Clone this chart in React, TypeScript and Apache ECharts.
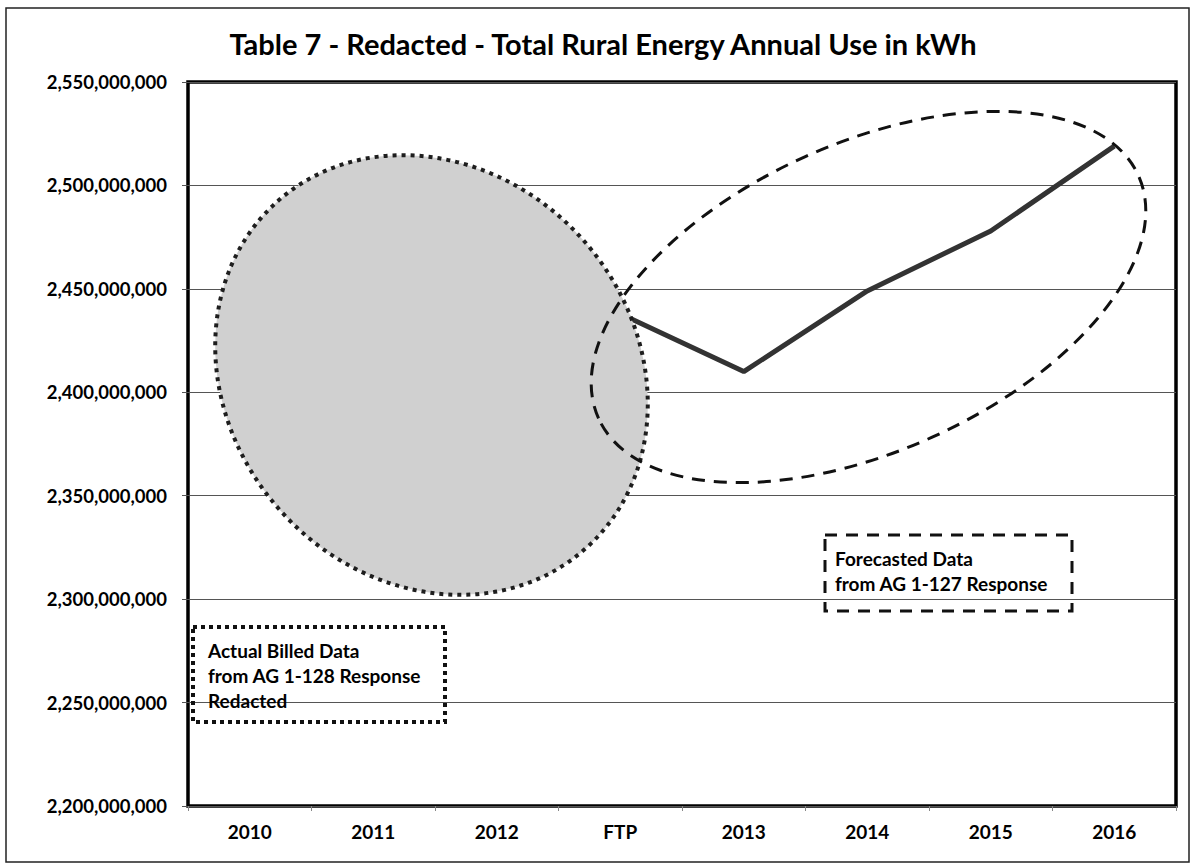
import React, { useEffect, useRef } from "react";
import * as echarts from "echarts";

const categories = ["2010", "2011", "2012", "FTP", "2013", "2014", "2015", "2016"];
const forecastValues: (number | null)[] = [null, null, null, 2438000000, 2410000000, 2449000000, 2478000000, 2519000000];
const yMin = 2200000000;
const yMax = 2550000000;
const yStep = 50000000;
const titleText = "Table 7 - Redacted - Total Rural Energy Annual Use in kWh";
const actualNote = ["Actual Billed Data", "from AG 1-128 Response", "Redacted"];
const forecastNote = ["Forecasted Data", "from AG 1-127 Response"];

const FONT = "Lato";

export default function App() {
  const ref = useRef<HTMLDivElement>(null);
  useEffect(() => {
    if (!ref.current) return;
    const chart = echarts.init(ref.current, undefined, { renderer: "svg" });
    chart.setOption({
      animation: false,
      backgroundColor: "#ffffff",
      grid: {
        left: 188,
        right: 17,
        top: 82,
        bottom: 61,
        show: true,
        borderColor: "#000",
        borderWidth: 3.5,
        backgroundColor: "transparent",
      },
      xAxis: {
        type: "category",
        data: categories,
        boundaryGap: true,
        axisLine: { show: false },
        axisTick: { show: true, length: 5, lineStyle: { color: "#888", width: 1 } },
        axisLabel: {
          margin: 16,
          color: "#000",
          fontFamily: FONT,
          fontWeight: "bold",
          fontSize: 19,
        },
        splitLine: { show: false },
      },
      yAxis: {
        type: "value",
        min: yMin,
        max: yMax,
        interval: yStep,
        axisLine: { show: false },
        axisTick: { show: true, length: 6, lineStyle: { color: "#555", width: 1 } },
        axisLabel: {
          margin: 21,
          color: "#000",
          fontFamily: FONT,
          fontWeight: "bold",
          fontSize: 18.5,
          formatter: (v: number) => v.toLocaleString("en-US"),
        },
        splitLine: { show: true, lineStyle: { color: "#555", width: 1 } },
      },
      series: [
        {
          type: "line",
          data: forecastValues,
          showSymbol: false,
          symbol: "none",
          connectNulls: false,
          lineStyle: { color: "#333", width: 5 },
          z: 3,
        },
      ],
      graphic: [
        {
          type: "rect",
          z: 200,
          silent: true,
          shape: { x: 6, y: 8, width: 1183, height: 854 },
          style: { fill: "none", stroke: "#222", lineWidth: 1.5 },
        },
        {
          type: "text",
          z: 200,
          x: 603,
          y: 43,
          style: {
            text: titleText,
            fill: "#000",
            font: `bold 29px ${FONT}`,
            textAlign: "center",
            textVerticalAlign: "middle",
          },
        },
        {
          type: "ellipse",
          z: 100,
          x: 431.5,
          y: 375,
          rotation: (-48.5 * Math.PI) / 180,
          shape: { cx: 0, cy: 0, rx: 232, ry: 203 },
          style: { fill: "#d0d0d0", stroke: "#1e1e1e", lineWidth: 4, lineDash: [4, 5] },
        },
        {
          type: "ellipse",
          z: 110,
          x: 868.5,
          y: 297,
          rotation: (24.2 * Math.PI) / 180,
          shape: { cx: 0, cy: 0, rx: 296, ry: 154 },
          style: { fill: "none", stroke: "#111", lineWidth: 3, lineDash: [13, 9] },
        },
        {
          type: "rect",
          z: 110,
          shape: { x: 193, y: 627, width: 252, height: 95 },
          style: { fill: "none", stroke: "#111", lineWidth: 4, lineDash: [4, 4] },
        },
        {
          type: "text",
          z: 111,
          x: 208,
          y: 637.5,
          style: {
            text: actualNote.join("\n"),
            fill: "#000",
            font: `bold 19px ${FONT}`,
            lineHeight: 25,
            textAlign: "left",
            textVerticalAlign: "top",
          },
        },
        {
          type: "rect",
          z: 110,
          shape: { x: 825, y: 535, width: 247, height: 76 },
          style: { fill: "none", stroke: "#111", lineWidth: 3, lineDash: [12, 9] },
        },
        {
          type: "text",
          z: 111,
          x: 835,
          y: 545.5,
          style: {
            text: forecastNote.join("\n"),
            fill: "#000",
            font: `bold 19px ${FONT}`,
            lineHeight: 25,
            textAlign: "left",
            textVerticalAlign: "top",
          },
        },
      ],
    });
    return () => chart.dispose();
  }, []);
  return (
    <div
      ref={ref}
      style={{ position: "fixed", left: 0, top: 0, width: 1193, height: 867, background: "#fff" }}
    />
  );
}
